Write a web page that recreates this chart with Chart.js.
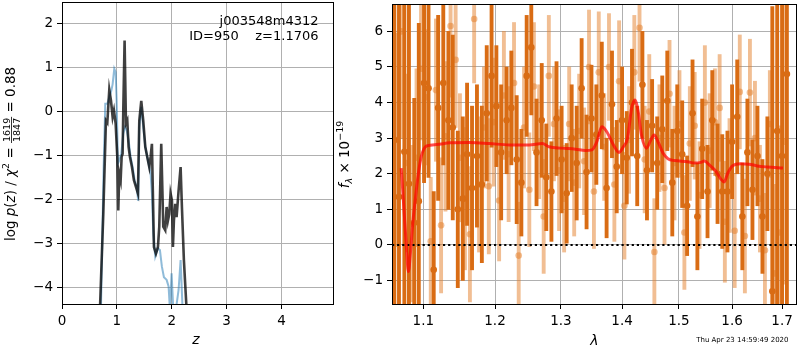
<!DOCTYPE html>
<html>
<head>
<meta charset="utf-8">
<script src="https://cdn.jsdelivr.net/npm/chart.js@4.4.1/dist/chart.umd.min.js"></script>
<style>
  html, body { margin: 0; padding: 0; background: #fff; }
  #wrap { position: relative; width: 800px; height: 350px; overflow: hidden; }
  canvas { position: absolute; top: 0; }
  #pz { left: 0; }
  #spec { left: 330px; }
</style>
</head>
<body>
<div id="wrap">
  <canvas id="pz" width="340" height="350"></canvas>
  <canvas id="spec" width="470" height="350"></canvas>
</div>
<script>
// ── p(z) panel data ────────────────────────────────────────────────────────
const zRange    = [0, 4.94];
const logpRange = [-4.38, 2.5];
const zTicks    = [0, 1, 2, 3, 4];
const logpTicks = [-4, -3, -2, -1, 0, 1, 2];

const zBlack = [0.692,0.753,0.801,0.826,0.862,0.893,0.923,0.947,0.978,1.008,1.026,1.044,1.069,1.087,1.105,1.117,1.141,1.166,1.19,1.214,1.239,1.275,1.311,1.348,1.384,1.409,1.445,1.481,1.518,1.554,1.591,1.615,1.639,1.676,1.712,1.749,1.773,1.809,1.846,1.882,1.907,1.931,1.955,1.979,2.004,2.022,2.04,2.064,2.089,2.125,2.162,2.186,2.222,2.271];
const logpBlack = [-4.5,-2.32,-0.2,-0.25,0.5,0.25,-0.12,0.03,-0.27,-1.03,-2.25,-1.41,-1.56,-1.03,-0.96,0.03,1.62,-0.27,-0.2,-0.8,-1.03,-1.26,-1.56,-1.71,-1.86,-0.2,0.25,-0.2,-0.8,-1.03,-1.26,-1.03,-0.73,-3.08,-3.23,-3.08,-2.62,-0.73,-2.62,-2.7,-2.17,-2.48,-2.33,-1.86,-2.02,-3.08,-2.48,-2.1,-2.4,-1.8,-1.26,-2.17,-3.38,-4.5];

const zBlue = [0.71,0.759,0.789,0.826,0.862,0.899,0.923,0.953,0.978,0.996,1.02,1.044,1.081,1.117,1.148,1.178,1.214,1.251,1.287,1.324,1.36,1.39,1.409,1.445,1.481,1.518,1.554,1.591,1.615,1.639,1.664,1.7,1.749,1.785,1.821,1.858,1.907,1.943,1.967,1.998,2.028,2.077,2.125,2.162,2.198];
const logpBlue = [-4.5,-1.26,0.18,0.18,0.33,0.48,0.63,0.98,0.9,0.26,-1.18,-1.11,-0.95,-0.5,-0.35,-0.42,-0.65,-1.03,-1.26,-1.56,-1.71,-2.03,-0.35,0.11,-0.35,-0.8,-1.03,-1.26,-1.41,-1.86,-2.77,-3.3,-3.11,-3.15,-3.53,-3.77,-3.83,-3.98,-4.5,-3.68,-4.5,-4.5,-4.06,-3.38,-4.5];

// ── spectrum panel data ────────────────────────────────────────────────────
const lamRange  = [1.059, 1.729];
const fluxRange = [-1.66, 6.77];
const lamTicks  = [1.1, 1.2, 1.3, 1.4, 1.5, 1.6, 1.7];
const fluxTicks = [-1, 0, 1, 2, 3, 4, 5, 6];

const lamDark = [1.062,1.068,1.075,1.081,1.088,1.094,1.101,1.107,1.114,1.120,1.127,1.134,1.140,1.147,1.154,1.160,1.167,1.174,1.181,1.188,1.195,
  1.202,1.209,1.217,1.224,1.232,1.239,1.247,1.254,1.262,1.270,1.277,1.285,1.293,1.301,1.309,1.317,1.325,1.333,1.341,1.349,
  1.357,1.366,1.374,1.383,1.391,1.400,1.408,1.417,1.426,1.435,1.443,1.452,1.461,1.470,1.479,1.488,1.497,1.506,
  1.515,1.525,1.534,1.543,1.553,1.562,1.572,1.581,1.591,1.600,1.610,1.620,1.630,1.640,1.650,1.660,1.670,1.680,1.690,1.700,1.710];
const fluxDark = [2.95,1.35,2.62,1.72,0.62,1.23,4.55,4.4,-0.7,3.85,4.55,3.5,3.3,1.0,1.3,2.55,1.6,2.5,1.7,3.7,4.75,
  3.9,2.6,3.5,3.85,2.4,1.75,4.75,5.55,2.6,3.5,1.9,1.5,3.55,2.4,1.45,3.0,2.3,4.4,2.05,3.55,
  3.1,4.2,1.6,3.95,2.2,3.5,2.45,4.0,2.5,4.5,2.1,3.35,2.3,3.25,4.05,1.75,3.2,2.55,
  1.1,3.7,0.8,2.7,1.5,3.5,2.0,1.5,1.5,2.9,3.6,0.8,2.6,1.55,2.5,0.8,2.0,-1.3,3.2,2.5,4.8];
const errDark = [9,8,6,7,3.5,5,2.8,2.5,2.2,2.6,2.3,2.5,2.6,2.2,2.3,2.0,2.3,2.0,2.2,1.9,2.0,
  1.7,1.9,1.5,1.6,1.8,1.5,1.7,1.9,1.5,1.6,1.5,1.4,1.6,1.5,1.4,1.5,1.6,1.4,1.6,1.5,
  1.4,1.5,1.4,1.5,1.3,1.5,1.3,1.5,1.4,1.5,1.4,1.3,1.3,1.5,1.4,1.5,1.3,1.5,
  1.4,1.5,1.5,1.4,1.3,1.4,1.4,1.6,1.7,1.6,1.6,1.5,1.5,1.4,1.4,1.6,1.6,8,9,9,9];

const lamLight = [1.065,1.071,1.078,1.084,1.091,1.097,1.104,1.110,1.117,1.124,1.130,1.137,1.144,1.150,1.157,1.164,1.170,1.177,1.184,1.191,1.198,
  1.206,1.213,1.220,1.228,1.235,1.243,1.251,1.258,1.266,1.273,1.281,1.289,1.297,1.305,1.313,1.321,1.329,1.337,1.345,1.353,
  1.361,1.370,1.378,1.387,1.395,1.404,1.412,1.421,1.430,1.439,1.447,1.456,1.465,1.474,1.483,1.492,1.501,1.510,
  1.520,1.529,1.538,1.548,1.557,1.567,1.576,1.586,1.595,1.605,1.615,1.625,1.635,1.645,1.655,1.665,1.675,1.685,1.695,1.705];
const fluxLight = [2.95,6.0,2.3,0.6,2.45,4.95,4.15,0.1,4.35,0.55,3.05,6.15,5.2,2.45,1.3,0.3,6.35,1.7,3.3,1.65,3.45,
  1.25,4.2,2.55,4.55,-0.3,3.3,1.55,4.45,2.9,0.8,4.75,3.4,2.1,1.3,3.4,1.75,3.2,2.35,5.0,1.5,
  4.85,2.75,5.0,1.7,4.6,1.1,2.95,4.85,6.1,2.4,3.75,-0.2,3.0,1.6,4.25,2.3,3.4,0.35,
  2.85,3.35,1.4,4.0,2.65,3.45,3.85,0.65,1.95,0.4,4.3,0.25,4.28,3.0,1.3,-0.15,3.4,-0.8,0.35,2.9];
const errLight = [3,3,2.5,2.2,2.5,2.0,1.9,1.8,2.0,1.9,2.1,2.0,1.9,1.8,2.0,1.9,1.8,1.9,1.7,1.9,1.8,
  1.7,1.8,1.9,1.7,1.5,1.7,1.6,1.8,1.6,1.6,1.7,1.6,1.7,1.5,1.6,1.5,1.6,1.5,1.6,1.6,
  1.7,1.5,1.5,1.6,1.7,1.5,1.5,1.6,1.5,1.5,1.6,1.5,1.5,1.6,1.5,1.6,1.5,1.6,
  1.6,1.5,1.5,1.6,1.6,1.5,1.5,1.7,1.6,1.6,1.6,1.6,1.5,1.6,1.5,1.6,1.5,2.5,3,4];

const lamModel = [1.0709,1.0745,1.0775,1.0803,1.0830,1.0860,1.0891,1.0934,1.0975,1.1045,1.1179,1.1359,1.1636,1.1919,1.2210,1.2507,1.2709,1.2812,1.3018,1.3230,1.3390,1.3497,1.3578,1.3661,1.3743,1.3855,1.3949,1.4022,1.4094,1.4162,1.4220,1.4277,1.4334,1.4421,1.4497,1.4555,1.4625,1.4713,1.4802,1.4922,1.5162,1.5285,1.5407,1.5470,1.5564,1.5688,1.5783,1.5848,1.5911,1.6006,1.6167,1.6331,1.6495,1.6695,1.7019];
const fluxModel = [2.16,1.0,0.0,-0.75,-0.2,0.6,1.23,2.0,2.5,2.78,2.82,2.87,2.88,2.85,2.81,2.81,2.85,2.76,2.72,2.69,2.65,2.67,2.9,3.32,3.18,2.81,2.6,2.76,3.0,3.83,4.07,3.74,3.09,2.72,2.95,3.09,2.9,2.58,2.42,2.37,2.34,2.3,2.32,2.36,2.25,2.07,1.85,1.77,2.0,2.22,2.28,2.27,2.22,2.19,2.16];

const SPEC_NAME = 'j003548m4312';
const SPEC_ID   = 'ID=950    z=1.1706';
const STAMP     = 'Thu Apr 23 14:59:49 2020';

const DARK  = 'rgb(217,108,20)';
const LIGHT = 'rgba(228,125,40,0.5)';
const FONT  = '"DejaVu Sans"';

// ── helpers ────────────────────────────────────────────────────────────────

const minus = v => (v < 0 ? '\u2212' + Math.abs(v) : String(v));
const xy = (xs, ys) => xs.map((x, i) => ({ x, y: ys[i] }));
const errBars = (xs, ys, es) => xs.map((x, i) => ({ x, y: [ys[i] - es[i], ys[i] + es[i]] }));

// fixed axis box size, and no extra room for edge labels
const fitX = s => { s.height = 46; s.paddingLeft = 0; s.paddingRight = 0; };
const fitY = w => s => { s.width = w; s.paddingTop = 0; s.paddingBottom = 0; };

function axisOpts(range, ticks, fmt, fit) {
  return {
    min: range[0], max: range[1],
    offset: false,
    afterBuildTicks: s => { s.ticks = ticks.map(v => ({ value: v })); },
    afterFit: fit,
    grid: { color: '#b0b0b0', lineWidth: 1, tickColor: '#000', tickLength: 5, offset: false },
    border: { display: false },
    ticks: { color: '#000', font: { family: 'DejaVu Sans', size: 13.5 }, padding: 4,
             maxRotation: 0, autoSkip: false, callback: fmt },
  };
}

// draws text rotated by -90deg; baseline sits at page x = x0, centred on cy
function drawRotated(ctx, x0, cy, parts) {
  ctx.save();
  ctx.translate(x0, cy);
  ctx.rotate(-Math.PI / 2);
  ctx.fillStyle = '#000';
  ctx.textBaseline = 'alphabetic';
  let total = 0;
  const widths = parts.map(p => {
    ctx.font = p.font;
    const w = p.num
      ? Math.max(ctx.measureText(p.num).width, ctx.measureText(p.den).width) + 2
      : ctx.measureText(p.t).width;
    total += w;
    return w;
  });
  let u = -total / 2;
  parts.forEach((p, i) => {
    ctx.font = p.font;
    if (p.num) {
      ctx.textAlign = 'center';
      ctx.fillText(p.num, u + widths[i] / 2, -4.5);
      ctx.fillText(p.den, u + widths[i] / 2, 5.5);
      ctx.fillRect(u, -3.4, widths[i], 0.8);
    } else {
      ctx.textAlign = 'left';
      ctx.fillText(p.t, u, p.y || 0);
    }
    u += widths[i];
  });
  ctx.restore();
}

const framePlugin = {
  id: 'frame',
  afterDatasetsDraw(chart) {
    const { ctx, chartArea: a } = chart;
    const l = Math.round(a.left) + 0.5, t = Math.round(a.top) + 0.5;
    const r = Math.round(a.right) + 0.5, b = Math.round(a.bottom) + 0.5;
    ctx.save();
    ctx.strokeStyle = '#000';
    ctx.lineWidth = 1;
    ctx.strokeRect(l, t, r - l, b - t);
    ctx.restore();
  }
};

const BIG   = `13.5px ${FONT}`;
const BIG_I = `italic 13.5px ${FONT}`;
const SML   = `9.5px ${FONT}`;
const SML_I = `italic 9.5px ${FONT}`;

const pzText = {
  id: 'pzText',
  afterDraw(chart) {
    const ctx = chart.ctx;
    ctx.save();
    ctx.fillStyle = '#000';
    ctx.font = `13px ${FONT}`;
    ctx.textAlign = 'right';
    ctx.textBaseline = 'alphabetic';
    ctx.fillText(SPEC_NAME, 318.5, 24.5);
    ctx.fillText(SPEC_ID, 318.5, 39.5);
    ctx.textAlign = 'center';
    ctx.font = `italic 14px ${FONT}`;
    ctx.fillText('z', 196, 343.5);
    ctx.restore();
    drawRotated(ctx, 14.5, 154, [
      { t: 'log ', font: BIG }, { t: 'p', font: BIG_I }, { t: '(', font: BIG },
      { t: 'z', font: BIG_I }, { t: ') / ', font: BIG }, { t: '\u03c7', font: BIG_I },
      { t: '2', font: SML, y: -5.5 }, { t: ' = ', font: BIG },
      { num: '1619', den: '1847', font: SML }, { t: ' = 0.88', font: BIG },
    ]);
  }
};

const specText = {
  id: 'specText',
  afterDraw(chart) {
    const ctx = chart.ctx;
    ctx.save();
    ctx.fillStyle = '#000';
    ctx.textAlign = 'center';
    ctx.textBaseline = 'alphabetic';
    ctx.font = `italic 14px ${FONT}`;
    ctx.fillText('\u03bb', 264.5, 345);
    ctx.textAlign = 'right';
    ctx.font = `7px ${FONT}`;
    ctx.fillText(STAMP, 458.5, 342);
    ctx.restore();
    drawRotated(ctx, 19, 154.5, [
      { t: 'f', font: BIG_I }, { t: '\u03bb', font: SML_I, y: 2.5 },
      { t: ' \u00d7 10', font: BIG }, { t: '\u221219', font: SML, y: -6 },
    ]);
  }
};

// ── p(z) chart ─────────────────────────────────────────────────────────────

new Chart(document.getElementById('pz'), {
  type: 'line',
  data: {
    datasets: [
      { data: xy(zBlack, logpBlack), borderColor: 'rgba(0,0,0,0.75)', borderWidth: 2.6,
        pointRadius: 0, tension: 0 },
      { data: xy(zBlue, logpBlue), borderColor: 'rgba(31,119,180,0.5)', borderWidth: 2,
        pointRadius: 0, tension: 0 },
    ]
  },
  options: {
    responsive: false, animation: false, events: [],
    layout: { padding: { top: 2, right: 7, left: 0, bottom: 0 } },
    plugins: { legend: { display: false }, tooltip: { enabled: false } },
    scales: {
      x: { type: 'linear', ...axisOpts(zRange, zTicks, v => String(v), fitX) },
      y: { type: 'linear', ...axisOpts(logpRange, logpTicks, minus, fitY(62)) },
    },
  },
  plugins: [framePlugin, pzText],
});

// ── spectrum chart ─────────────────────────────────────────────────────────

new Chart(document.getElementById('spec'), {
  type: 'bar',
  data: {
    datasets: [
      { type: 'line', data: xy(lamModel, fluxModel), borderColor: 'rgba(255,0,0,0.7)',
        borderWidth: 3, pointRadius: 0, cubicInterpolationMode: 'monotone' },
      { type: 'line', data: xy(lamRange, [0, 0]), borderColor: '#000', borderWidth: 2,
        borderDash: [2.2, 2.9], pointRadius: 0 },
      { type: 'scatter', data: xy(lamDark, fluxDark), pointRadius: 3.3, pointBorderWidth: 0,
        pointBackgroundColor: DARK },
      { type: 'bar', data: errBars(lamDark, fluxDark, errDark), backgroundColor: DARK,
        barThickness: 3.2, grouped: false, borderWidth: 0 },
      { type: 'scatter', data: xy(lamLight, fluxLight), pointRadius: 3.3, pointBorderWidth: 0,
        pointBackgroundColor: LIGHT },
      { type: 'bar', data: errBars(lamLight, fluxLight, errLight), backgroundColor: LIGHT,
        barThickness: 3.2, grouped: false, borderWidth: 0 },
    ]
  },
  options: {
    responsive: false, animation: false, events: [],
    layout: { padding: { top: 2, right: 1, left: 0, bottom: 0 } },
    plugins: { legend: { display: false }, tooltip: { enabled: false } },
    scales: {
      x: { type: 'logarithmic', ...axisOpts(lamRange, lamTicks, v => v.toFixed(1), fitX) },
      y: { type: 'linear', ...axisOpts(fluxRange, fluxTicks, minus, fitY(62)) },
    },
  },
  plugins: [framePlugin, specText],
});
</script>
</body>
</html>
